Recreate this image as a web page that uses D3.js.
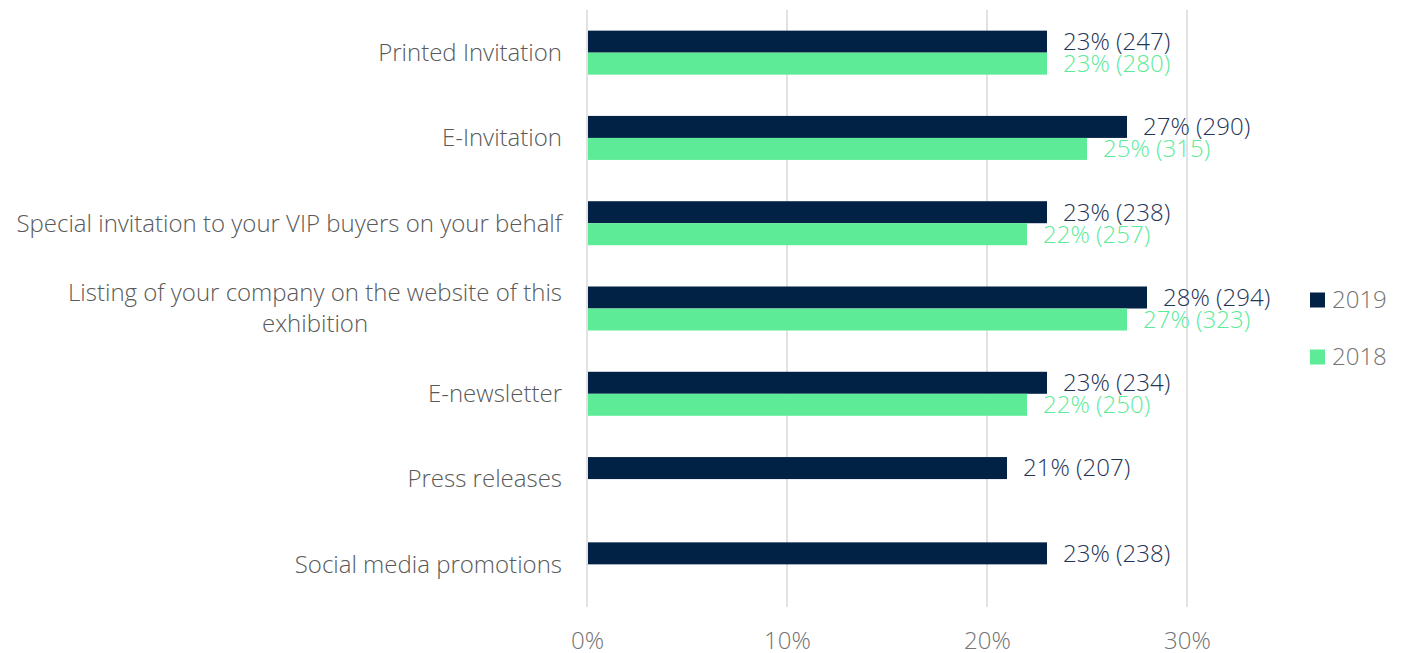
<!DOCTYPE html>
<html>
<head>
<meta charset="utf-8">
<script src="https://cdn.jsdelivr.net/npm/d3@7"></script>
<style>
  html, body { margin: 0; padding: 0; background: #fff; }
  svg { display: block; font-family: "Open Sans", sans-serif; font-weight: 300; }
</style>
</head>
<body>
<svg id="chart" width="1406" height="653"></svg>
<script>
// Promotion channels and their share of responses (percent) with counts
const categories = [
  "Printed Invitation",
  "E-Invitation",
  "Special invitation to your VIP buyers on your behalf",
  "Listing of your company on the website of this|exhibition",
  "E-newsletter",
  "Press releases",
  "Social media promotions"
];
const pct2019 = [23, 27, 23, 28, 23, 21, 23];
const count2019 = [247, 290, 238, 294, 234, 207, 238];
const pct2018 = [23, 25, 22, 27, 22, null, null];
const count2018 = [280, 315, 257, 323, 250, null, null];
const seriesNames = ["2019", "2018"];
const xTicks = [0, 10, 20, 30];

const colors = { "2019": "#022245", "2018": "#5eeb98" };
const labelColors = { "2019": "#1f3556", "2018": "#5eeb98" };

const svg = d3.select("#chart");

const x = d3.scaleLinear().domain([0, 30]).range([587, 1187]);
const y = d3.scaleBand().domain(categories).range([10, 607]).paddingInner(0.484).paddingOuter(0.242);
const sub = d3.scaleBand().domain(seriesNames).range([0, y.bandwidth()]);

// vertical gridlines
svg.append("g")
  .selectAll("line")
  .data(xTicks)
  .join("line")
  .attr("x1", d => x(d)).attr("x2", d => x(d))
  .attr("y1", 10).attr("y2", 607)
  .attr("stroke", "#d9d9d9")
  .attr("stroke-width", 1.5);

// x axis tick labels
const xAxis = d3.axisBottom(x).tickValues(xTicks).tickFormat(d => d + "%").tickSize(0).tickPadding(0);
const gx = svg.append("g").attr("transform", "translate(0,632)").call(xAxis);
gx.select(".domain").remove();
gx.selectAll("text")
  .attr("fill", "#737373")
  .style("font-size", "24px")
  .style("font-family", "'Open Sans', sans-serif")
  .style("font-weight", 300)
  .attr("dy", "0.71em");

// category labels (right-aligned block, lines centred within it)
const catG = svg.append("g");
categories.forEach(c => {
  const lines = c.split("|");
  const cy = y(c) + y.bandwidth() / 2;
  const lh = 31;
  const t = catG.append("text")
    .attr("fill", "#595959")
    .style("font-size", "24px");
  lines.forEach((ln, i) => {
    t.append("tspan").text(ln)
      .attr("y", cy + (i - (lines.length - 1) / 2) * lh)
      .attr("dy", "0.35em");
  });
  const widths = [];
  t.selectAll("tspan").each(function() { widths.push(this.getComputedTextLength()); });
  const maxW = d3.max(widths);
  const centerX = 562 - maxW / 2;
  t.selectAll("tspan").attr("x", centerX).attr("text-anchor", "middle");
});

// bars and value labels
const rows = [];
categories.forEach((c, i) => {
  if (pct2019[i] != null) rows.push({ cat: c, s: "2019", v: pct2019[i], n: count2019[i] });
  if (pct2018[i] != null) rows.push({ cat: c, s: "2018", v: pct2018[i], n: count2018[i] });
});

const barG = svg.append("g");
barG.selectAll("rect")
  .data(rows)
  .join("rect")
  .attr("x", x(0) + 1)
  .attr("y", d => y(d.cat) + sub(d.s))
  .attr("width", d => x(d.v) - x(0) - 1)
  .attr("height", sub.bandwidth())
  .attr("fill", d => colors[d.s]);

barG.selectAll("text")
  .data(rows)
  .join("text")
  .attr("x", d => x(d.v) + 16)
  .attr("y", d => y(d.cat) + sub(d.s) + sub.bandwidth() / 2)
  .attr("dy", "0.35em")
  .attr("fill", d => labelColors[d.s])
  .style("font-size", "24px")
  .text(d => `${d.v}% (${d.n})`);

// legend
const legend = svg.append("g");
seriesNames.forEach((s, i) => {
  const ly = 300 + i * 57;
  legend.append("rect")
    .attr("x", 1310).attr("y", ly - 7.5)
    .attr("width", 15).attr("height", 15)
    .attr("fill", colors[s]);
  legend.append("text")
    .attr("x", 1332).attr("y", ly)
    .attr("dy", "0.35em")
    .attr("fill", "#737373")
    .style("font-size", "24px")
    .text(s);
});
</script>
</body>
</html>
